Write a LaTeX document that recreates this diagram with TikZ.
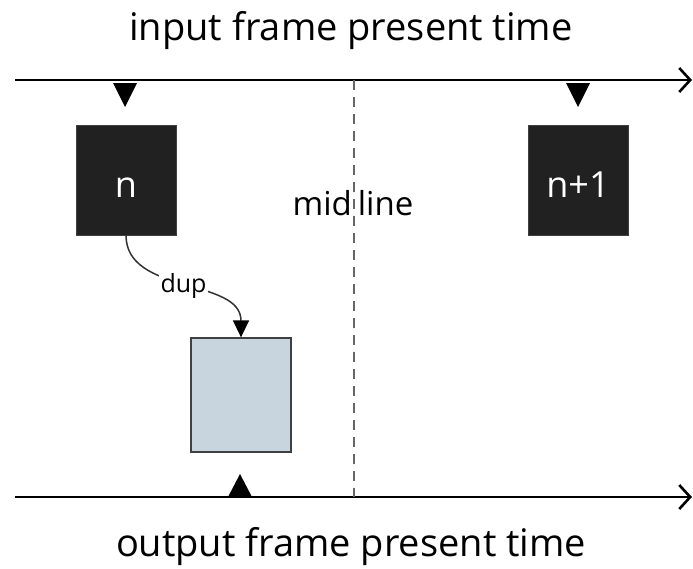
\documentclass[tikz,border=0pt]{standalone}
\usepackage{fontspec}
\setmainfont{Open Sans}
\usetikzlibrary{arrows.meta}
\begin{document}
\begin{tikzpicture}[x=1pt,y=-1pt,
  timeline/.style={line width=2.8pt,-{Straight Barb[length=11pt,width=24pt,line width=2.6pt]}},
  darkframe/.style={draw=black!75,fill=black!87,minimum width=100pt,minimum height=110pt,
    text=white,inner sep=0pt},
  framefont/.style={font=\fontsize{36}{40}\selectfont},
  lightframe/.style={draw=black!75,line width=1.3pt,fill={rgb,255:red,200;green,212;blue,222},
    minimum width=100pt,minimum height=114pt,inner sep=0pt},
  tickmark/.style={fill=black},
  axistitle/.style={font=\fontsize{38}{42}\selectfont,anchor=base,inner sep=0pt},
]
\useasboundingbox (0,0) rectangle (693,568);

% titles
\node[axistitle] (intitle) at (351,40) {input frame present time};
\node[axistitle] (outtitle) at (351,556) {output frame present time};

% time axes
\coordinate (inL) at (15,80);
\coordinate (inR) at (692,80);
\coordinate (outL) at (15,497);
\coordinate (outR) at (692,497);
\draw[timeline] (inL) -- (inR);
\draw[timeline] (outL) -- (outR);

% mid line
\coordinate (midT) at (354,80);
\coordinate (midB) at (354,497);
\draw[black!60,line width=2pt,dash pattern=on 10pt off 7pt] (midT) -- (midB);
\node[font=\fontsize{33}{37}\selectfont,inner sep=0pt,anchor=base] (midlbl) at (353,215) {mid\hspace{6pt}line};

% input frame markers
\fill[tickmark] (113,83) -- (137,83) -- (125,107) -- cycle;
\fill[tickmark] (566,83) -- (590,83) -- (578,107) -- cycle;
% output frame marker
\fill[tickmark] (228,497) -- (252,497) -- (240,474) -- cycle;

% frames
\node[darkframe] (fn) at (126,180) {};
\node[darkframe] (fn1) at (578,180) {};
\node[framefont,text=white,anchor=base,inner sep=0pt] (fnlbl) at (fn.center |- 0,197) {n};
\node[framefont,text=white,anchor=base,inner sep=0pt] (fn1lbl) at (fn1.center |- 0,197) {n+1};
\node[lightframe] (dupf) at (241,395) {};

% duplication arrow
\draw[black!80,line width=1.5pt,-{Triangle[length=17pt,width=16pt,color=black]}]
  (fn.south) to[out=-90,in=90]
  node[fill=white,inner sep=2pt,font=\fontsize{25}{29}\selectfont,text=black] (duplbl) {dup}
  (dupf.north);
\end{tikzpicture}
\end{document}
